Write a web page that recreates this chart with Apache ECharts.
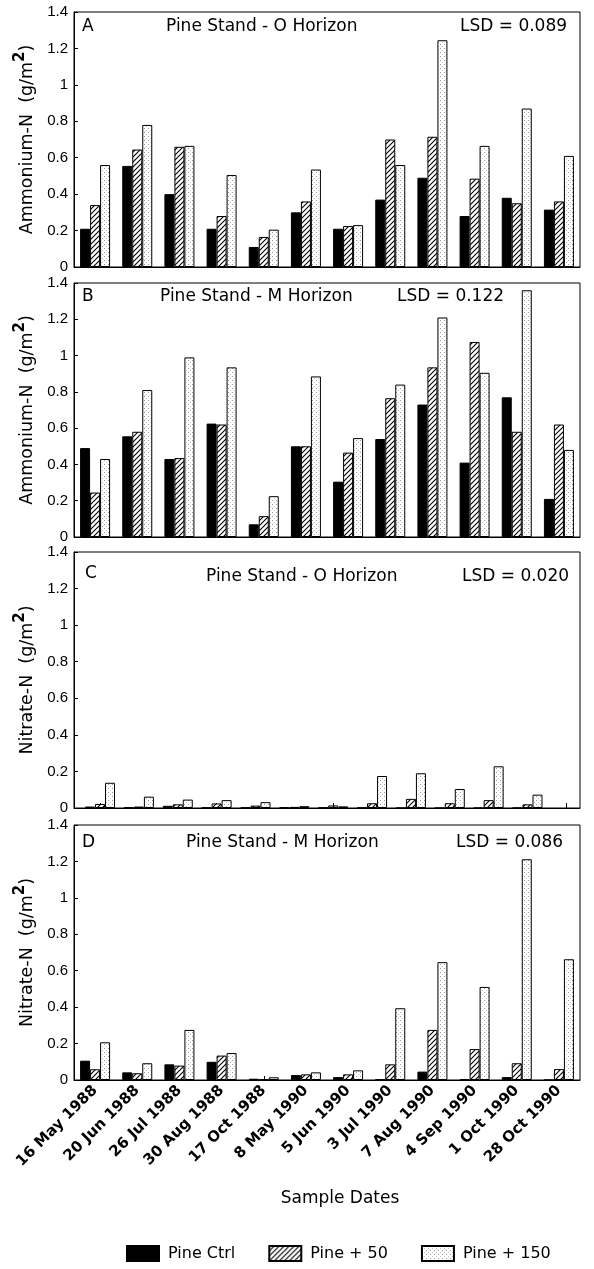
<!DOCTYPE html>
<html>
<head>
<meta charset="utf-8">
<script src="https://cdn.jsdelivr.net/npm/echarts@6/dist/echarts.min.js"></script>
<style>html,body{margin:0;padding:0;background:#fff}#chart{width:594px;height:1269px}</style>
</head>
<body>
<div id="chart"></div>
<script>
var dates = ['16 May 1988','20 Jun 1988','26 Jul 1988','30 Aug 1988','17 Oct 1988','8 May 1990','5 Jun 1990','3 Jul 1990','7 Aug 1990','4 Sep 1990','1 Oct 1990','28 Oct 1990']
var yTicks = ['0','0.2','0.4','0.6','0.8','1','1.2','1.4']

// A: ammonium, O horizon
var ctrlA = [0.21, 0.555, 0.40, 0.21, 0.11, 0.30, 0.21, 0.37, 0.49, 0.28, 0.38, 0.315]
var p50A  = [0.34, 0.645, 0.66, 0.28, 0.165, 0.36, 0.225, 0.70, 0.715, 0.485, 0.35, 0.36]
var p150A = [0.56, 0.78, 0.665, 0.505, 0.205, 0.535, 0.23, 0.56, 1.245, 0.665, 0.87, 0.61]
// B: ammonium, M horizon
var ctrlB = [0.49, 0.555, 0.43, 0.625, 0.07, 0.50, 0.305, 0.54, 0.73, 0.41, 0.77, 0.21]
var p50B  = [0.245, 0.58, 0.435, 0.62, 0.115, 0.50, 0.465, 0.765, 0.935, 1.075, 0.58, 0.62]
var p150B = [0.43, 0.81, 0.99, 0.935, 0.225, 0.885, 0.545, 0.84, 1.21, 0.905, 1.36, 0.48]
// C: nitrate, O horizon
var ctrlC = [0.008, 0.004, 0.012, 0.002, 0.003, 0.004, 0.002, 0.002, 0, 0, 0, 0]
var p50C  = [0.022, 0.008, 0.02, 0.025, 0.013, 0.006, 0.014, 0.026, 0.05, 0.026, 0.043, 0.02]
var p150C = [0.138, 0.062, 0.046, 0.043, 0.032, 0.01, 0.009, 0.175, 0.19, 0.104, 0.228, 0.073]
// D: nitrate, M horizon
var ctrlD = [0.106, 0.042, 0.086, 0.10, 0.007, 0.027, 0.016, 0.003, 0.046, 0.004, 0.016, 0]
var p50D  = [0.059, 0.037, 0.079, 0.134, 0.003, 0.031, 0.031, 0.086, 0.275, 0.17, 0.092, 0.06]
var p150D = [0.207, 0.092, 0.275, 0.148, 0.015, 0.042, 0.053, 0.394, 0.647, 0.511, 1.212, 0.663]

var names = ['Pine Ctrl', 'Pine + 50', 'Pine + 150']
var FONT = '"Liberation Sans", Arial, sans-serif'
var WIDE = '"DejaVu Sans", sans-serif'

function hatchCanvas(){
    var c = document.createElement('canvas'); c.width = 5; c.height = 5
    var g = c.getContext('2d')
    g.fillStyle = '#fff'; g.fillRect(0,0,5,5)
    g.strokeStyle = '#000'; g.lineWidth = 1.1
    g.beginPath()
    g.moveTo(-1,6); g.lineTo(6,-1)
    g.moveTo(-1,1); g.lineTo(1,-1)
    g.moveTo(4,6); g.lineTo(6,4)
    g.stroke()
    return c
}
function dotCanvas(){
    var c = document.createElement('canvas'); c.width = 4; c.height = 4
    var g = c.getContext('2d')
    g.fillStyle = '#fff'; g.fillRect(0,0,4,4)
    g.fillStyle = '#9a9a9a'; g.fillRect(0,0,1,1)
    g.fillStyle = '#c4c4c4'; g.fillRect(2,2,1,1)
    return c
}
var fills = ['#000', {image: hatchCanvas(), repeat: 'repeat'}, {image: dotCanvas(), repeat: 'repeat'}]

// panel frames
var panels = [
    {top: 12, height: 255, name: 'Ammonium-N'},
    {top: 283, height: 254, name: 'Ammonium-N'},
    {top: 552, height: 256, name: 'Nitrate-N'},
    {top: 825, height: 255, name: 'Nitrate-N'}
]
var grids = panels.map(function(p){
    return {left: 74, width: 506, top: p.top, height: p.height, show: true, borderColor: '#000', borderWidth: 1, backgroundColor: 'transparent'}
})
// panel C plots its groups on a 13-slot axis inside the same frame
grids.push({left: 80.6, width: 505.2, top: 552, height: 256, show: false})

var xAxes = panels.map(function(p, i){
    return {
        type: 'category', gridIndex: i, data: dates,
        axisLine: {lineStyle: {color: '#000', width: 1}},
        axisTick: {show: i !== 2, inside: true, alignWithLabel: true, length: 4, lineStyle: {color: '#000'}},
        axisLabel: {show: i === 3, interval: 0, rotate: 45, fontSize: 15, fontWeight: 'bold', color: '#000', fontFamily: WIDE, margin: 8}
    }
})
xAxes.push({
    type: 'category', gridIndex: 4, data: dates.concat(['']),
    axisLine: {show: false},
    axisTick: {show: true, inside: true, alignWithLabel: true, length: 5, lineStyle: {color: '#000'}},
    axisLabel: {show: false}
})

var yAxes = panels.map(function(p, i){
    return {
        type: 'value', gridIndex: i, min: 0, max: 1.4, interval: 0.2,
        name: '{n|' + p.name + '  (g/m}{s|2}{n|)}',
        nameLocation: 'middle', nameRotate: 90, nameGap: 36,
        nameTextStyle: {
            color: '#000', fontFamily: WIDE,
            rich: {
                n: {fontSize: 17.5, fontFamily: WIDE, color: '#000', lineHeight: 24, verticalAlign: 'bottom'},
                s: {fontSize: 15, fontFamily: WIDE, fontWeight: 'bold', color: '#000', lineHeight: 24, verticalAlign: 'top'}
            }
        },
        axisLine: {show: true, lineStyle: {color: '#000', width: 1}},
        axisTick: {show: true, inside: true, length: 4, lineStyle: {color: '#000'}},
        axisLabel: {fontSize: 15, color: '#000', fontFamily: FONT, margin: 6,
            formatter: function(v){ return yTicks[Math.round(v / 0.2)] }},
        splitLine: {show: false}
    }
})
yAxes.push({type: 'value', gridIndex: 4, min: 0, max: 1.4, interval: 0.2, show: false})

var panelData = [
    [ctrlA, p50A, p150A, 0],
    [ctrlB, p50B, p150B, 1],
    [ctrlC, p50C, p150C, 4],
    [ctrlD, p50D, p150D, 3]
]
var series = []
panelData.forEach(function(pd){
    for (var k = 0; k < 3; k++) {
        series.push({
            type: 'bar', name: names[k], data: pd[k],
            xAxisIndex: pd[3], yAxisIndex: pd[3],
            barWidth: 10, barGap: '0%',
            itemStyle: {color: fills[k], borderColor: '#000', borderWidth: 1}
        })
    }
})

function txt(x, y, s){
    return {type: 'text', x: x, y: y, style: {text: s, fill: '#000', font: '17px ' + WIDE, verticalAlign: 'middle'}}
}
var graphics = [
    txt(82, 27, 'A'), txt(166, 27, 'Pine Stand - O Horizon'), txt(460, 27, 'LSD = 0.089'),
    txt(82, 297, 'B'), txt(160, 297, 'Pine Stand - M Horizon'), txt(397, 297, 'LSD = 0.122'),
    txt(85, 574, 'C'), txt(206, 577, 'Pine Stand - O Horizon'), txt(462, 577, 'LSD = 0.020'),
    txt(82, 843, 'D'), txt(186, 843, 'Pine Stand - M Horizon'), txt(456, 843, 'LSD = 0.086'),
    {type: 'text', x: 340, y: 1199, style: {text: 'Sample Dates', fill: '#000', font: '17px ' + WIDE, align: 'center', verticalAlign: 'middle'}}
]

var chart = echarts.init(document.getElementById('chart'))
chart.setOption({
    animation: false,
    backgroundColor: '#fff',
    grid: grids,
    xAxis: xAxes,
    yAxis: yAxes,
    legend: {
        data: names, left: 121, top: 1240, icon: 'rect',
        itemWidth: 32, itemHeight: 15, itemGap: 33,
        textStyle: {fontSize: 16, color: '#000', fontFamily: WIDE, padding: [0, 0, 0, 4]}
    },
    graphic: graphics,
    series: series
})
</script>
</body>
</html>
